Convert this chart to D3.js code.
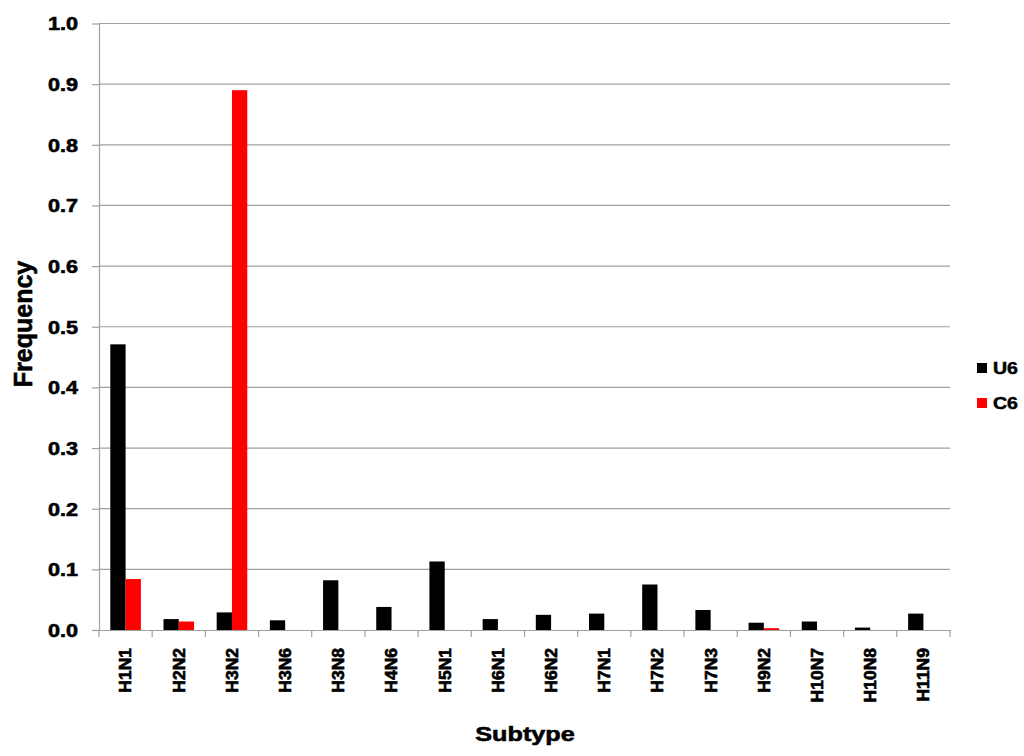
<!DOCTYPE html>
<html><head><meta charset="utf-8">
<script src="https://cdn.jsdelivr.net/npm/d3@7"></script>
<style>body{margin:0;background:#fff;}text{font-family:"Liberation Sans",Arial,sans-serif;font-weight:bold;}</style>
</head><body><svg id="c" width="1024" height="756"></svg>
<script>
const categories = ["H1N1","H2N2","H3N2","H3N6","H3N8","H4N6","H5N1","H6N1","H6N2","H7N1","H7N2","H7N3","H9N2","H10N7","H10N8","H11N9"];
const seriesNames = ["U6","C6"];
const u6 = [0.471,0.018,0.029,0.016,0.082,0.038,0.113,0.018,0.025,0.027,0.075,0.033,0.012,0.014,0.004,0.027];
const c6 = [0.084,0.014,0.890,0,0,0,0,0,0,0,0,0,0.003,0,0,0];
const yTicks = [0,0.1,0.2,0.3,0.4,0.5,0.6,0.7,0.8,0.9,1.0];
const colors = ["#000000","#ff0000"];

const svg = d3.select("#c");
const L=99, R=950, T=23.5, B=630;
const x = d3.scaleBand().domain(categories).range([L,R]);
const xs = d3.scaleBand().domain(seriesNames).range([0,x.bandwidth()]).paddingInner(0).paddingOuter(0.74);
const y = d3.scaleLinear().domain([0,1]).range([B,T]);
const grid = "#a0a0a0";

// gridlines
svg.append("g").selectAll("line").data(yTicks.slice(1)).join("line")
  .attr("x1",L).attr("x2",R).attr("y1",d=>y(d)).attr("y2",d=>y(d))
  .attr("stroke",grid).attr("stroke-width",1.2);

// bars
const data = [u6,c6];
seriesNames.forEach((s,i)=>{
  svg.append("g").selectAll("rect").data(categories).join("rect")
    .attr("x",d=>x(d)+xs(s)).attr("width",xs.bandwidth())
    .attr("y",(d,j)=>y(data[i][j])).attr("height",(d,j)=>B-y(data[i][j]))
    .attr("fill",colors[i]);
});

// y axis
const ya = svg.append("g").attr("transform",`translate(${L},0)`)
  .call(d3.axisLeft(y).tickValues(yTicks).tickFormat(d3.format(".1f")).tickSize(7).tickSizeOuter(0));
ya.select(".domain").attr("stroke",grid).attr("stroke-width",1.2);
ya.selectAll(".tick line").attr("stroke",grid).attr("stroke-width",1.2);
ya.selectAll(".tick text").attr("font-size",18).attr("fill","#000")
  .attr("stroke","#000").attr("stroke-width",0.6)
  .attr("x",0).attr("dy","0.36em").attr("transform","translate(-21,0) scale(1.2,1)");

// x axis
const xa = svg.append("g").attr("transform",`translate(0,${B})`)
  .call(d3.axisBottom(x).tickSize(0).tickSizeOuter(0));
xa.select(".domain").attr("stroke",grid).attr("stroke-width",1.2);
xa.selectAll(".tick text").attr("font-size",15.5).attr("fill","#000")
  .attr("stroke","#000").attr("stroke-width",0.6)
  .attr("transform","translate(0,18) rotate(-90) scale(1.13,1.05)").attr("text-anchor","end")
  .attr("x",0).attr("y",0).attr("dy","0.36em");
// category boundary ticks
svg.append("g").selectAll("line").data(d3.range(categories.length+1)).join("line")
  .attr("x1",i=>L+i*x.step()).attr("x2",i=>L+i*x.step())
  .attr("y1",B).attr("y2",B+7).attr("stroke",grid).attr("stroke-width",1.2);

// titles
svg.append("text").attr("transform","translate(32,324) rotate(-90)").attr("text-anchor","middle")
  .attr("font-size",25).attr("stroke","#000").attr("stroke-width",0.6).text("Frequency");
svg.append("text").attr("transform","translate(525,741) scale(1.2,1)").attr("text-anchor","middle")
  .attr("font-size",21).attr("stroke","#000").attr("stroke-width",0.6).text("Subtype");

// legend
seriesNames.forEach((s,i)=>{
  const ly = 368 + i*35;
  svg.append("rect").attr("x",977).attr("y",ly-5).attr("width",10).attr("height",10).attr("fill",colors[i]);
  svg.append("text").attr("transform",`translate(993,${ly}) scale(1.15,1)`).attr("dy","0.36em")
    .attr("font-size",17).attr("stroke","#000").attr("stroke-width",0.5).text(s);
});
</script></body></html>
